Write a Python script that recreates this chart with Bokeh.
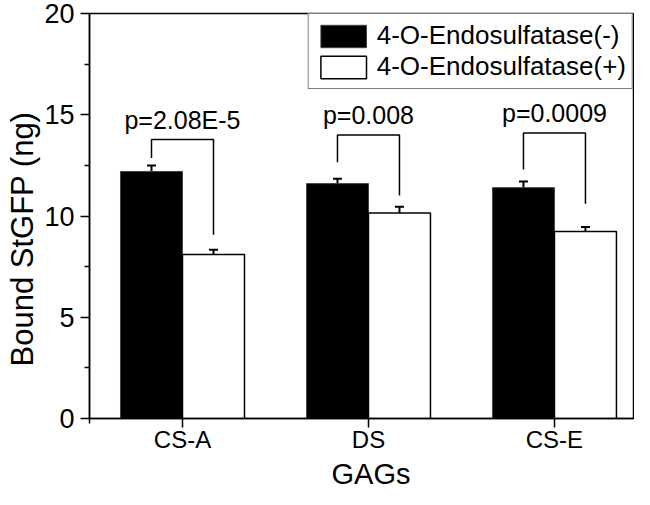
from bokeh.plotting import figure
from bokeh.models import (ColumnDataSource, Whisker, TeeHead, FixedTicker,
                          Legend, LegendItem, Title, Range1d)
from bokeh.core.properties import value
from bokeh.embed import file_html
from bokeh.resources import INLINE

# ---------------- data ----------------
categories = ["CS-A", "DS", "CS-E"]
series_names = ["4-O-Endosulfatase(-)", "4-O-Endosulfatase(+)"]
neg_values = [12.2, 11.6, 11.4]
neg_errors = [0.29, 0.24, 0.30]
pos_values = [8.1, 10.15, 9.24]
pos_errors = [0.23, 0.31, 0.22]
p_labels = ["p=2.08E-5", "p=0.008", "p=0.0009"]
bracket_top = [13.78, 14.0, 14.1]
bracket_left_end = [12.86, 12.66, 12.3]
bracket_right_end = [9.08, 11.01, 10.6]
y_ticks = [0, 5, 10, 15, 20]
y_minor_ticks = [2.5, 7.5, 12.5, 17.5]
x_label = "GAGs"
y_label = "Bound StGFP (ng)"

FONT = "Liberation Sans"
BAR_W = 1.0 / 3.0

xs = [i + 1 for i in range(len(categories))]
x_neg = [x - BAR_W / 2 for x in xs]
x_pos = [x + BAR_W / 2 for x in xs]

src = ColumnDataSource(dict(
    x=xs, cat=categories, x_neg=x_neg, x_pos=x_pos,
    neg=neg_values, pos=pos_values,
    neg_lo=[v - e for v, e in zip(neg_values, neg_errors)],
    neg_hi=[v + e for v, e in zip(neg_values, neg_errors)],
    pos_lo=[v - e for v, e in zip(pos_values, pos_errors)],
    pos_hi=[v + e for v, e in zip(pos_values, pos_errors)],
    p_label=p_labels,
    p_y=[t + 0.28 for t in bracket_top],
))

p = figure(width=634, height=489, output_backend="svg", toolbar_location=None,
           x_range=Range1d(0.5, 3.425), y_range=Range1d(0, 20))
p.min_border_left = 86
p.min_border_right = 1
p.min_border_top = 13
p.min_border_bottom = 40
p.background_fill_color = "white"
p.border_fill_color = "white"
p.outline_line_color = "black"
p.outline_line_width = 1.5
p.xgrid.visible = False
p.ygrid.visible = False

r_neg = p.vbar(x="x_neg", top="neg", width=BAR_W, source=src,
               fill_color="black", line_color="#444444", line_width=1)
r_pos = p.vbar(x="x_pos", top="pos", width=BAR_W, source=src,
               fill_color="white", line_color="black", line_width=1.5)

for lo, hi, base in (("neg_lo", "neg_hi", "x_neg"), ("pos_lo", "pos_hi", "x_pos")):
    w = Whisker(source=src, base=base, lower=lo, upper=hi,
                line_color="black", line_width=2,
                upper_head=TeeHead(size=9, line_color="black", line_width=2),
                lower_head=TeeHead(size=9, line_color="black", line_width=2))
    p.add_layout(w)

# significance brackets
bx, by = [], []
for xl, xr, t, le, re in zip(x_neg, x_pos, bracket_top, bracket_left_end, bracket_right_end):
    bx.append([xl, xl, xr, xr])
    by.append([le, t, t, re])
p.multi_line(xs=bx, ys=by, line_color="black", line_width=1.5)

p.text(x="x", y="p_y", text="p_label", source=src, text_align="center",
       text_baseline="bottom", text_font=value(FONT), text_font_size="25px",
       text_color="black")

# axes
for ax in (p.xaxis[0], p.yaxis[0]):
    ax.axis_line_color = "black"
    ax.axis_line_width = 1.5
    ax.major_tick_line_color = "black"
    ax.major_tick_line_width = 1.5
    ax.minor_tick_line_color = "black"
    ax.minor_tick_line_width = 1.5
    ax.major_tick_out = 9
    ax.major_tick_in = 0
    ax.minor_tick_out = 5
    ax.minor_tick_in = 0
    ax.major_label_text_font = FONT
    ax.major_label_text_color = "black"

p.yaxis.ticker = FixedTicker(ticks=y_ticks, minor_ticks=y_minor_ticks)
p.yaxis.major_label_text_font_size = "27px"
p.yaxis.major_label_standoff = 6

p.xaxis.ticker = FixedTicker(ticks=xs, minor_ticks=[0.5])
p.xaxis.major_label_overrides = {x: c for x, c in zip(xs, categories)}
p.xaxis.major_label_text_font_size = "24px"
p.xaxis.major_label_text_line_height = 1.0
p.xaxis.major_label_standoff = -2

# axis titles
p.add_layout(Title(text=x_label, align="left", offset=242, standoff=0,
                   text_font=FONT, text_font_size="29px", text_font_style="normal",
                   text_line_height=1.0, text_color="black"), "below")
p.add_layout(Title(text=y_label, align="left", offset=52, standoff=4,
                   text_font=FONT, text_font_size="31px", text_font_style="normal",
                   text_color="black"), "left")

legend = Legend(items=[LegendItem(label=series_names[0], renderers=[r_neg]),
                       LegendItem(label=series_names[1], renderers=[r_pos])],
                location="top_right")
legend.label_text_font = FONT
legend.label_text_font_size = "26px"
legend.label_text_color = "black"
legend.label_text_line_height = 1.0
legend.glyph_width = 57
legend.glyph_height = 28
legend.label_height = 28
legend.label_standoff = 5
legend.spacing = 0
legend.padding = 6
legend.margin = 0
legend.border_line_color = "black"
legend.border_line_width = 1.5
legend.background_fill_alpha = 1
p.add_layout(legend)

open("out.html", "w").write(file_html(p, INLINE))
